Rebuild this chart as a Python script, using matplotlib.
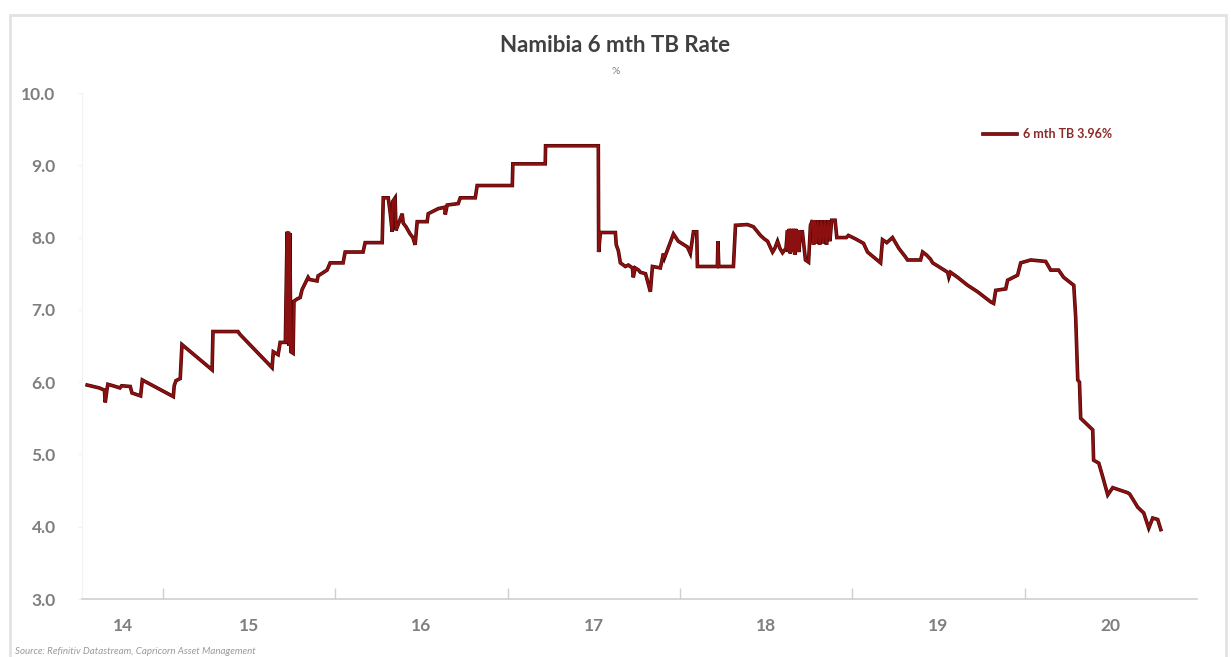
import matplotlib
matplotlib.use("Agg")
import matplotlib.pyplot as plt
import matplotlib.patheffects as pe
from matplotlib.patches import Rectangle

plt.rcParams['font.family'] = ['Lato', 'DejaVu Sans']

# 6 month treasury bill rate, decimal year vs. %
years = [
    2014.56, 2014.63, 2014.66, 2014.665, 2014.675, 2014.68, 2014.71, 2014.75,
    2014.76, 2014.81, 2014.82, 2014.87, 2014.88, 2015.06, 2015.065, 2015.075,
    2015.10, 2015.11, 2015.285, 2015.29, 2015.435, 2015.447, 2015.633, 2015.64,
    2015.668, 2015.68, 2015.71, 2015.72, 2015.724, 2015.728, 2015.732, 2015.736,
    2015.742, 2015.755, 2015.76, 2015.778, 2015.796, 2015.807, 2015.842, 2015.85,
    2015.894, 2015.90, 2015.952, 2015.97, 2016.045, 2016.057, 2016.161, 2016.173,
    2016.272, 2016.278, 2016.307, 2016.318, 2016.33, 2016.333, 2016.347, 2016.352,
    2016.36, 2016.388, 2016.394, 2016.41, 2016.434, 2016.45, 2016.463, 2016.475,
    2016.533, 2016.539, 2016.597, 2016.635, 2016.638, 2016.649, 2016.713, 2016.725,
    2016.812, 2016.823, 2017.027, 2017.03, 2017.218, 2017.22, 2017.526, 2017.528,
    2017.538, 2017.625, 2017.63, 2017.642, 2017.654, 2017.683, 2017.70, 2017.724,
    2017.729, 2017.74, 2017.76, 2017.77, 2017.80, 2017.828, 2017.84, 2017.886,
    2017.904, 2017.91, 2017.962, 2017.99, 2018.043, 2018.06, 2018.078, 2018.097,
    2018.101, 2018.217, 2018.22, 2018.225, 2018.31, 2018.322, 2018.391, 2018.426,
    2018.467, 2018.49, 2018.508, 2018.537, 2018.55, 2018.566, 2018.58, 2018.595,
    2018.615, 2018.624, 2018.628, 2018.634, 2018.64, 2018.646, 2018.652, 2018.66,
    2018.666, 2018.672, 2018.68, 2018.688, 2018.69, 2018.699, 2018.71, 2018.728,
    2018.746, 2018.757, 2018.769, 2018.775, 2018.782, 2018.79, 2018.80, 2018.81,
    2018.82, 2018.83, 2018.84, 2018.85, 2018.86, 2018.87, 2018.88, 2018.90,
    2018.91, 2018.965, 2018.977, 2019.02, 2019.065, 2019.088, 2019.164, 2019.175,
    2019.20, 2019.233, 2019.27, 2019.309, 2019.32, 2019.396, 2019.408, 2019.43,
    2019.454, 2019.466, 2019.50, 2019.553, 2019.56, 2019.57, 2019.611, 2019.669,
    2019.727, 2019.803, 2019.82, 2019.832, 2019.89, 2019.901, 2019.959, 2019.977,
    2020.035, 2020.122, 2020.151, 2020.197, 2020.226, 2020.285, 2020.296, 2020.308,
    2020.318, 2020.325, 2020.395, 2020.40, 2020.43, 2020.453, 2020.482, 2020.511,
    2020.598, 2020.61, 2020.656, 2020.691, 2020.72, 2020.743, 2020.772, 2020.79,
]
rates = [
    5.96, 5.92, 5.89, 5.72, 5.90, 5.97, 5.95, 5.92,
    5.95, 5.94, 5.85, 5.81, 6.03, 5.80, 5.95, 6.02,
    6.05, 6.52, 6.17, 6.70, 6.70, 6.66, 6.20, 6.42,
    6.38, 6.55, 6.55, 8.08, 6.55, 8.08, 6.50, 8.06,
    6.42, 6.40, 7.12, 7.15, 7.17, 7.28, 7.45, 7.42,
    7.40, 7.47, 7.55, 7.65, 7.65, 7.80, 7.80, 7.93,
    7.93, 8.55, 8.55, 8.35, 8.08, 8.50, 8.55, 8.10,
    8.15, 8.33, 8.20, 8.15, 8.05, 8.00, 7.90, 8.22,
    8.22, 8.33, 8.40, 8.42, 8.32, 8.45, 8.47, 8.55,
    8.55, 8.72, 8.72, 9.02, 9.02, 9.27, 9.27, 7.80,
    8.07, 8.07, 7.90, 7.82, 7.65, 7.60, 7.62, 7.58,
    7.45, 7.58, 7.55, 7.52, 7.50, 7.25, 7.60, 7.58,
    7.78, 7.72, 8.05, 7.95, 7.87, 7.78, 8.08, 8.08,
    7.60, 7.60, 7.95, 7.60, 7.60, 8.17, 8.18, 8.15,
    8.03, 7.98, 7.95, 7.80, 7.85, 7.95, 7.85, 7.79,
    7.85, 8.10, 7.80, 8.12, 7.78, 8.12, 7.80, 8.12,
    7.76, 8.12, 7.80, 8.10, 7.80, 8.08, 8.08, 7.69,
    7.66, 8.17, 8.24, 7.90, 8.24, 7.92, 8.24, 7.90,
    8.24, 7.92, 8.24, 7.90, 8.24, 7.95, 8.24, 8.24,
    8.00, 8.00, 8.03, 7.98, 7.92, 7.80, 7.65, 7.97,
    7.93, 8.00, 7.85, 7.73, 7.69, 7.69, 7.80, 7.76,
    7.70, 7.65, 7.60, 7.52, 7.45, 7.52, 7.45, 7.34,
    7.25, 7.11, 7.09, 7.27, 7.29, 7.41, 7.48, 7.65,
    7.69, 7.67, 7.55, 7.55, 7.45, 7.34, 6.90, 6.03,
    6.00, 5.50, 5.34, 4.92, 4.88, 4.69, 4.44, 4.54,
    4.47, 4.45, 4.27, 4.19, 3.98, 4.12, 4.10, 3.96,
]

year_bounds = [2015, 2016, 2017, 2018, 2019, 2020]
label_pos = [2014.765, 2015.5, 2016.5, 2017.5, 2018.5, 2019.5, 2020.5]
year_labels = ['14', '15', '16', '17', '18', '19', '20']
y_ticks = [3, 4, 5, 6, 7, 8, 9, 10]

line_col = '#8c1010'
grey = '#7f7f7f'

fig = plt.figure(figsize=(12.31, 6.57), dpi=100, facecolor='white')

# light frame round the chart
fig.patches.append(Rectangle((10 / 1231, -0.01), 1216 / 1231, 1 - 15 / 657 + 0.01,
                             transform=fig.transFigure, fill=False,
                             edgecolor='#e2e2e2', linewidth=2))

ax = fig.add_axes([82 / 1231, 1 - 599 / 657, 1115 / 1231, 506 / 657])

ax.plot(years, rates, color=line_col, linewidth=1.7, solid_joinstyle='miter',
        label='6 mth TB 3.96%',
        path_effects=[pe.Stroke(linewidth=2.6, foreground='#4a0505'), pe.Normal()])

ax.set_xlim(2014.53, 2021.0)
ax.set_ylim(3, 10)

ax.set_xticks(year_bounds)
ax.set_xticklabels([])
ax.set_xticks(label_pos, minor=True)
ax.set_xticklabels(year_labels, minor=True)
ax.tick_params(axis='x', which='major', direction='in', length=8, width=1, color='#d0d0d0')
ax.tick_params(axis='x', which='minor', length=0, pad=14, labelsize=12.5,
               labelcolor=grey)
for t in ax.get_xticklabels(minor=True):
    t.set_fontweight('bold')

ax.set_yticks(y_ticks)
ax.set_yticklabels(['%.1f' % v for v in y_ticks])
ax.tick_params(axis='y', length=3, color='#f0f0f0', pad=16, labelsize=12.5,
               labelcolor=grey)
for t in ax.get_yticklabels():
    t.set_fontweight('bold')

for side in ['top', 'right']:
    ax.spines[side].set_visible(False)
ax.spines['left'].set_color('#f2f2f2')
ax.spines['bottom'].set_color('#d0d0d0')
ax.spines['bottom'].set_linewidth(1.2)

leg = ax.legend(loc='center left', bbox_to_anchor=(983 / 1231, 1 - 134 / 657),
                bbox_transform=fig.transFigure, frameon=False, fontsize=9,
                handlelength=2.7, handletextpad=0.5, borderpad=0, borderaxespad=0,
                labelcolor='#8c2a2a')
for t in leg.get_texts():
    t.set_fontweight('bold')

fig.text(0.5, 1 - 45 / 657, 'Namibia 6 mth TB Rate', ha='center', va='center',
         fontsize=16, fontweight='bold', color='#404040')
fig.text(0.5, 1 - 72 / 657, '%', ha='center', va='center', fontsize=7.5, color=grey)
fig.text(15 / 1231, 1 - 651 / 657, 'Source: Refinitiv Datastream, Capricorn Asset Management',
         ha='left', va='center', fontsize=7, style='italic', color='#9a9a9a')

fig.savefig('out.png', dpi=100, facecolor='white')
